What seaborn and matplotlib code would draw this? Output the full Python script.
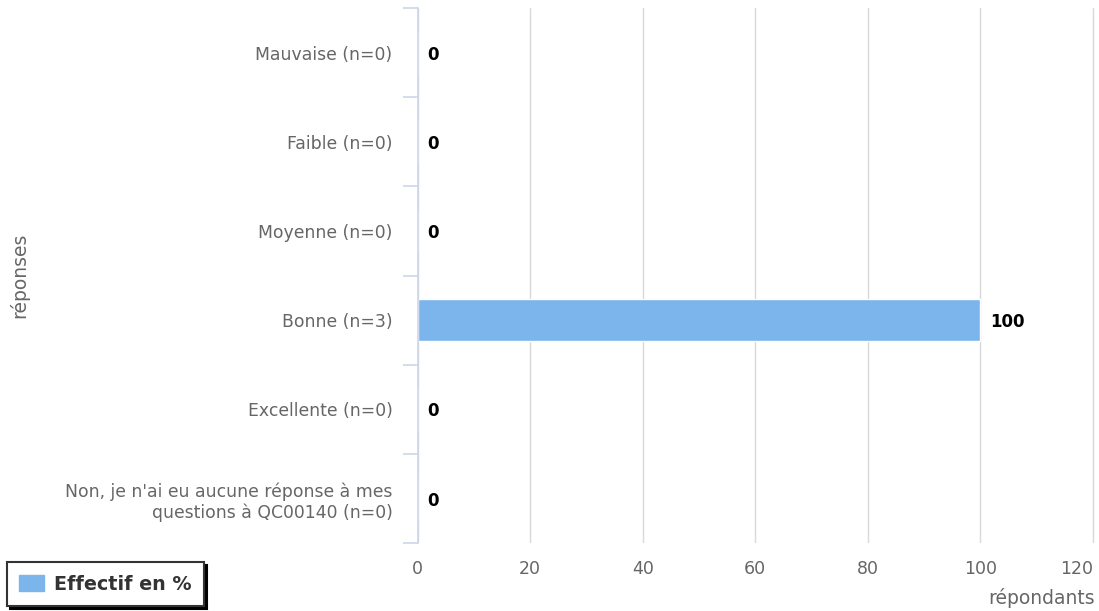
import seaborn as sns
import matplotlib.pyplot as plt
import pandas as pd

categories = ['Mauvaise (n=0)', 'Faible (n=0)', 'Moyenne (n=0)', 'Bonne (n=3)',
              'Excellente (n=0)',
              "Non, je n'ai eu aucune réponse à mes\nquestions à QC00140 (n=0)"]
values = [0, 0, 0, 100, 0, 0]
xticks = [0, 20, 40, 60, 80, 100, 120]

df = pd.DataFrame({'cat': categories, 'val': values})

sns.set_style('white')
plt.rcParams['font.family'] = ['DejaVu Sans']

fig = plt.figure(figsize=(10.99, 6.11), dpi=100)
ax = fig.add_axes([0.380, 0.111, 0.617, 0.876])

sns.barplot(data=df, y='cat', x='val', orient='h', color='#7cb5ec',
            width=0.47, saturation=1, ax=ax, legend=False)

ax.set_xlim(0, 120.5)
ax.set_ylim(5.5, -0.5)
ax.set_xticks(xticks)
ax.grid(axis='x', color='#d8d8d8', linewidth=1)
ax.set_axisbelow(True)
for s in ['top', 'right', 'bottom']:
    ax.spines[s].set_visible(False)
ax.spines['left'].set_color('#ccd6eb')
ax.spines['left'].set_linewidth(1.2)
ax.set_yticks([i - 0.5 for i in range(len(categories) + 1)], minor=True)
ax.tick_params(axis='y', which='minor', left=True, length=11, color='#ccd6eb', width=1.2)
ax.tick_params(axis='y', which='major', left=False, length=0, pad=18, labelsize=12.4,
               labelcolor='#666666')
ax.tick_params(axis='x', length=0, pad=12, labelsize=12.5, labelcolor='#666666')
for lbl in ax.get_xticklabels():
    if lbl.get_text() == '120':
        lbl.set_ha('right')

# valeurs au bout des barres
for i, v in enumerate(values):
    ax.annotate(str(v), (v, i), xytext=(7, -1.5), textcoords='offset points',
                ha='left', va='center', fontsize=12, fontweight='bold', color='black')

ax.set_ylabel('réponses', fontsize=13.5, color='#666666')
ax.yaxis.set_label_coords(-0.573, 0.5)
ax.set_xlabel('répondants', fontsize=13.5, color='#666666')
ax.xaxis.set_label_coords(0.999, -0.083)
ax.xaxis.label.set_ha('right')

handles = [plt.Rectangle((0, 0), 1, 1, color='#7cb5ec')]
leg = fig.legend(handles, ['Effectif en %'], loc='lower left',
                 bbox_to_anchor=(7 / 1099, 5 / 611), borderaxespad=0, fontsize=13.8,
                 frameon=True, fancybox=False,
                 shadow={'color': 'black', 'alpha': 1}, handlelength=1.3,
                 handleheight=0.9, borderpad=0.65, handletextpad=0.5)
leg.get_frame().set_edgecolor('#333333')
leg.get_frame().set_linewidth(1.5)
for t in leg.get_texts():
    t.set_fontweight('bold')
    t.set_color('#333333')

plt.savefig('out.png', dpi=100)
